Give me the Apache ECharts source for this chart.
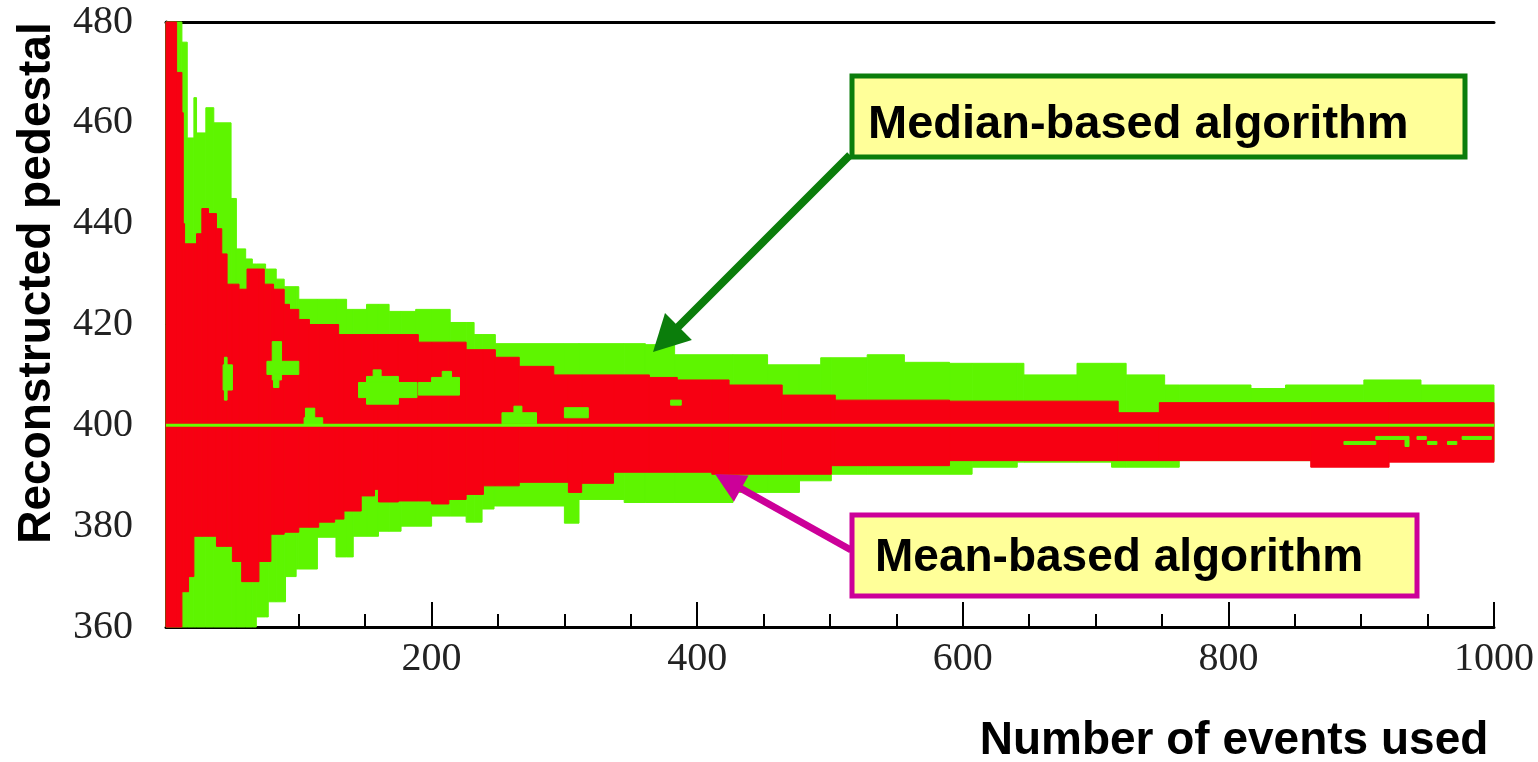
<!DOCTYPE html>
<html>
<head>
<meta charset="utf-8">
<script src="https://cdn.jsdelivr.net/npm/echarts@6/dist/echarts.min.js"></script>
<style>
  html, body { margin: 0; padding: 0; background: #fff; }
  #main { width: 1538px; height: 762px; }
</style>
</head>
<body>
<div id="main"></div>
<script>
// envelope of the median-based estimates (step breakpoints: events used -> pedestal)
var medianHiEvents = [0,12,16,21,23,30,36,49,53,60,65,75,83,89,100,136,151,168,188,214,232,248,361,383,453,493,528,556,590,646,686,723,752,817,843,902,945,1000];
var medianHi = [485,476,457,465,458,463,460,445,435,433,432,431,429,427.5,425,423,424,422.6,423,420.4,418,416.2,416,414,412,413.4,414,412.5,412.3,410,412.3,410,408,407.3,408,409,408,408];
var medianLoEvents = [0,68,77,90,98,114,128,141,160,177,200,226,238,247,300,311,345,427,477,501,607,641,712,763,1000];
var medianLo = [355,362,365,370,371.5,377.8,373.9,378,379,380,382,380.8,383.4,384,380.6,385.3,384.7,386.7,389,390.3,391.7,392.7,391.7,393,393];

// median estimates that show through inside the mean band: [from, to, low, high]
var medianInner = [
    [80,87,409,416.6], [76,100,410.1,412.7], [81,85,407.5,409],
    [43,50,407,412], [44,46,405,413.5],
    [151,175,404.2,409.7], [145,189,405.5,408.5], [156,162,409.7,411],
    [200,221,406,409.5], [208,215,409.5,410.7], [190,200,406,408.5],
    [105,112,400,403.4], [104,118,400,401.5],
    [253,279,400.3,402.5], [262,268,402.5,403.8], [300,318,401.5,403.5], [380,388,404,405],
    [887,911,396.2,396.8], [911,936,397.2,397.8], [933,936,395.8,397.2],
    [942,949,397.2,397.8], [950,957,396.2,396.8], [965,972,396.2,396.8], [976,998,397.2,397.8]
];

// envelope of the mean-based estimates
var meanHiEvents = [0,8,12,13,14,23,27,32,38,42,46,55,61,74,81,89,93,100,108,130,190,226,248,266,292,364,385,424,464,504,590,717,748,1000];
var meanHi = [485,470,462,440,436,438,443,442,439,434,428,427,431,428,427,424,423,421,420,418,416.5,415,413.5,411.7,410,409.5,409,408,406,405,404.8,402.5,404.5,404.5];
var meanLoEvents = [0,12,17,21,38,50,57,70,79,89,100,115,127,134,147,157,160,175,200,213,226,239,266,303,313,337,411,501,590,862,921,1000];
var meanLo = [355,367,370,378,376,373,369,373,378.4,378.8,379.8,380.8,381.4,383,386,387.3,384.8,385,384.4,385.3,386.3,388,388.7,386.7,388.5,390.7,390.3,392,393,391.7,392.7,392.7];

var truePedestal = 400;
var xTicks = [0, 1000, 200];   // min, max, interval
var yTicks = [360, 480, 20];

var GREEN = '#5ef500';
var RED = '#f70012';

// value of a step curve at x
function stepValue(xs, vs, x) {
    var v = vs[0];
    for (var i = 0; i < xs.length; i++) {
        if (xs[i] <= x) v = vs[i];
    }
    return v;
}

// one [x0, x1, low, high] segment per interval between breakpoints
function bandSegments(xHi, hi, xLo, lo) {
    var xs = xHi.concat(xLo).filter(function (v, i, a) { return a.indexOf(v) === i; });
    xs.sort(function (a, b) { return a - b; });
    var segs = [];
    for (var i = 0; i < xs.length - 1; i++) {
        segs.push([xs[i], xs[i + 1], stepValue(xLo, lo, xs[i]), stepValue(xHi, hi, xs[i])]);
    }
    return segs;
}

function bandSeries(name, segs, color) {
    return {
        name: name,
        type: 'custom',
        silent: true,
        data: segs,
        encode: { x: [0, 1], y: [2, 3] },
        renderItem: function (params, api) {
            var p0 = api.coord([api.value(0), api.value(3)]);
            var p1 = api.coord([api.value(1), api.value(2)]);
            var rect = echarts.graphic.clipRectByRect({
                x: p0[0], y: p0[1], width: p1[0] - p0[0], height: p1[1] - p0[1]
            }, {
                x: params.coordSys.x, y: params.coordSys.y,
                width: params.coordSys.width, height: params.coordSys.height
            });
            if (!rect) return;
            return {
                type: 'rect',
                shape: rect,
                style: { fill: color, stroke: color, lineWidth: 1 }
            };
        }
    };
}

function arrow(x1, y1, x2, y2, headLen, headHalf, width, color) {
    var dx = x2 - x1, dy = y2 - y1;
    var len = Math.sqrt(dx * dx + dy * dy);
    var ux = dx / len, uy = dy / len;
    var bx = x2 - ux * headLen, by = y2 - uy * headLen;
    return [{
        type: 'line', z: 100,
        shape: { x1: x1, y1: y1, x2: bx + ux * 2, y2: by + uy * 2 },
        style: { stroke: color, lineWidth: width }
    }, {
        type: 'polygon', z: 100,
        shape: { points: [[x2, y2], [bx - uy * headHalf, by + ux * headHalf], [bx + uy * headHalf, by - ux * headHalf]] },
        style: { fill: color }
    }];
}

var myChart = echarts.init(document.getElementById('main'));

var titleFont = 'bold 46px "Liberation Sans", Arial, sans-serif';
var numFont = '"Liberation Serif", "Times New Roman", serif';

var graphics = [
    {
        type: 'text', z: 100, x: 37, y: 283, rotation: Math.PI / 2,
        style: { text: 'Reconstructed pedestal', font: titleFont, fill: '#000', textAlign: 'center', textVerticalAlign: 'middle' }
    },
    {
        type: 'text', z: 100, x: 1234, y: 741,
        style: { text: 'Number of events used', font: titleFont, fill: '#000', textAlign: 'center', textVerticalAlign: 'middle' }
    }
];
graphics = graphics.concat(arrow(850, 155, 653, 352, 36, 19, 8, '#0b7d0b'));
graphics = graphics.concat(arrow(851, 550, 715, 474, 30, 15, 7, '#cc0099'));
graphics.push(
    {
        type: 'rect', z: 101,
        shape: { x: 852, y: 76, width: 613, height: 81 },
        style: { fill: '#ffff99', stroke: '#0b7d0b', lineWidth: 5 }
    },
    {
        type: 'text', z: 102, x: 868, y: 125,
        style: { text: 'Median-based algorithm', font: 'bold 47px "Liberation Sans", Arial, sans-serif', fill: '#000', textAlign: 'left', textVerticalAlign: 'middle' }
    },
    {
        type: 'rect', z: 101,
        shape: { x: 852, y: 515, width: 565, height: 81 },
        style: { fill: '#ffff99', stroke: '#cc0099', lineWidth: 5 }
    },
    {
        type: 'text', z: 102, x: 875, y: 558,
        style: { text: 'Mean-based algorithm', font: titleFont, fill: '#000', textAlign: 'left', textVerticalAlign: 'middle' }
    }
);

var option = {
    animation: false,
    grid: { left: 166, right: 44, top: 22, bottom: 135 },
    xAxis: [{
        type: 'value', min: xTicks[0], max: xTicks[1], interval: xTicks[2],
        axisLine: { lineStyle: { color: '#000', width: 3 } },
        axisTick: { inside: true, length: 25, lineStyle: { color: '#000', width: 2 } },
        minorTick: { show: true, splitNumber: 4, length: 13, lineStyle: { color: '#000', width: 2 } },
        axisLabel: { showMinLabel: false, margin: 12, color: '#222', fontSize: 40, fontFamily: numFont,
                     formatter: function (v) { return String(v); } },
        splitLine: { show: false }
    }, {
        type: 'value', position: 'top', min: xTicks[0], max: xTicks[1],
        axisLine: { lineStyle: { color: '#000', width: 3 } },
        axisTick: { show: false }, axisLabel: { show: false }, splitLine: { show: false }
    }],
    yAxis: [{
        type: 'value', min: yTicks[0], max: yTicks[1], interval: yTicks[2],
        axisLine: { show: false }, axisTick: { show: false },
        axisLabel: { margin: 33, color: '#222', fontSize: 40, fontFamily: numFont },
        splitLine: { show: false }
    }, {
        type: 'value', position: 'right', min: yTicks[0], max: yTicks[1],
        axisLine: { show: true, lineStyle: { color: '#000', width: 3 } },
        axisTick: { show: false }, axisLabel: { show: false }, splitLine: { show: false }
    }],
    series: [
        bandSeries('Median-based', bandSegments(medianHiEvents, medianHi, medianLoEvents, medianLo), GREEN),
        bandSeries('Mean-based', bandSegments(meanHiEvents, meanHi, meanLoEvents, meanLo), RED),
        bandSeries('Median-based (inside)', medianInner, GREEN),
        { type: 'line', symbol: 'none', silent: true,
          data: [[xTicks[0], truePedestal], [xTicks[1], truePedestal]],
          lineStyle: { color: '#66ff00', width: 3 } }
    ],
    graphic: graphics
};

myChart.setOption(option);
</script>
</body>
</html>
